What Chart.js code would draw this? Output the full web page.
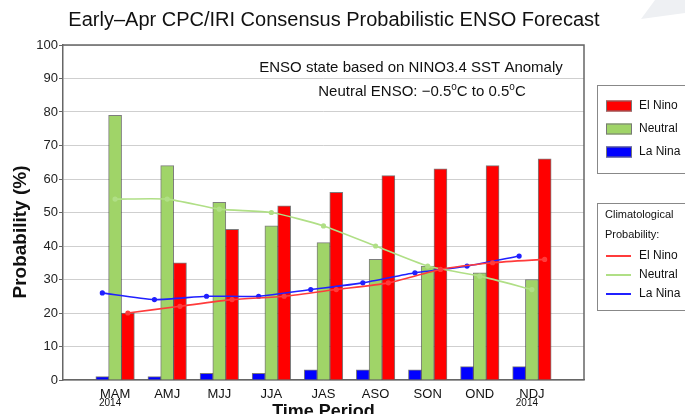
<!DOCTYPE html>
<html>
<head>
<meta charset="utf-8">
<script src="https://cdn.jsdelivr.net/npm/chart.js@4.4.1/dist/chart.umd.min.js"></script>
<style>
    body { margin: 0; background: #fff; }
    #wrap { width: 685px; height: 414px; position: relative; }
</style>
</head>
<body>
<div id="wrap"><canvas id="ensoChart" width="685" height="414"></canvas></div>
<script>
const periods = ['MAM', 'AMJ', 'MJJ', 'JJA', 'JAS', 'ASO', 'SON', 'OND', 'NDJ'];
const yearLabels = ['2014', '', '', '', '', '', '', '', '2014'];
const yTicks = [0, 10, 20, 30, 40, 50, 60, 70, 80, 90, 100];

// forecast probabilities (%)
const laNina = [1, 1, 2, 2, 3, 3, 3, 4, 4];
const neutral = [79, 64, 53, 46, 41, 36, 34, 32, 30];
const elNino = [20, 35, 45, 52, 56, 61, 63, 64, 66];

// climatological probabilities (%)
const climElNino = [20, 22, 24, 25, 27, 29, 33, 35, 36];
const climNeutral = [54, 54, 51, 50, 46, 40, 34, 31, 27];
const climLaNina = [26, 24, 25, 25, 27, 29, 32, 34, 37];

const FONT = '"Liberation Sans", Arial, Helvetica, sans-serif';
const RED = '#ff0000';
const GREEN = '#a0d468';
const BLUE = '#0000ff';
const shift = 0.245;   // side bars sit this far (in slots) from the neutral bar

// each period sits on slot i+1 of a 0..10 linear axis
const atSlot = (arr, off) => arr.map((v, i) => ({ x: i + 1 + off, y: v }));

const barStyle = {
    borderColor: 'rgba(70,70,70,0.7)',
    borderWidth: 1,
    barThickness: 13,
    grouped: false
};
const lineStyle = {
    type: 'line',
    borderWidth: 1.6,
    pointRadius: 1.8,
    tension: 0.2,
    order: -1
};

function supText(ctx, parts, x, y, size) {
    // parts: [text, isSup]
    const fontFor = sup => (sup ? Math.round(size * 0.65) : size) + 'px ' + FONT;
    let total = 0;
    parts.forEach(p => {
        ctx.font = fontFor(p[1]);
        total += ctx.measureText(p[0]).width;
    });
    let cx = x - total / 2;
    ctx.textAlign = 'left';
    parts.forEach(p => {
        ctx.font = fontFor(p[1]);
        ctx.fillText(p[0], cx, p[1] ? y - 5 : y);
        cx += ctx.measureText(p[0]).width;
    });
}

const extras = {
    id: 'extras',
    beforeDraw(chart) {
        const ctx = chart.ctx;
        ctx.save();
        ctx.fillStyle = '#eef0f3';
        ctx.beginPath();
        ctx.moveTo(655, 0);
        ctx.lineTo(685, 0);
        ctx.lineTo(685, 13);
        ctx.lineTo(641, 19);
        ctx.closePath();
        ctx.fill();
        ctx.restore();
    },
    afterDraw(chart) {
        const ctx = chart.ctx;
        const a = chart.chartArea;
        const xs = chart.scales.x;
        ctx.save();

        // frame top + right
        ctx.strokeStyle = '#666';
        ctx.lineWidth = 1.5;
        ctx.beginPath();
        ctx.moveTo(a.left, a.top);
        ctx.lineTo(a.right, a.top);
        ctx.lineTo(a.right, a.bottom);
        ctx.stroke();

        ctx.fillStyle = '#111';
        ctx.textBaseline = 'middle';

        // title
        ctx.textAlign = 'center';
        ctx.font = '20px ' + FONT;
        ctx.fillText('Early\u2013Apr CPC/IRI Consensus Probabilistic ENSO Forecast', 334, 20);

        // note in plot
        ctx.font = '15px ' + FONT;
        ctx.fillText('ENSO state based on NINO3.4 SST Anomaly', 411, 68);
        supText(ctx, [['Neutral ENSO: \u22120.5', false], ['o', true], ['C to 0.5', false], ['o', true], ['C', false]], 422, 92, 15);

        // year labels
        ctx.textAlign = 'center';
        ctx.font = '10px ' + FONT;
        yearLabels.forEach((t, i) => {
            if (t) ctx.fillText(t, xs.getPixelForValue(i + 1) - 5, 403);
        });

        // axis titles
        ctx.font = 'bold 18px ' + FONT;
        ctx.fillText('Time Period', (a.left + a.right) / 2, 412);
        ctx.save();
        ctx.font = 'bold 19px ' + FONT;
        ctx.translate(21, 232);
        ctx.rotate(-Math.PI / 2);
        ctx.fillText('Probability (%)', 0, 0);
        ctx.restore();

        // legend boxes
        ctx.strokeStyle = '#888';
        ctx.lineWidth = 1;
        ctx.strokeRect(597.5, 85.5, 100, 88);
        ctx.strokeRect(597.5, 203.5, 100, 107);

        ctx.textAlign = 'left';
        ctx.font = '12px ' + FONT;
        const boxItems = [['El Nino', RED, 106], ['Neutral', GREEN, 129], ['La Nina', BLUE, 152]];
        boxItems.forEach(it => {
            ctx.fillStyle = it[1];
            ctx.fillRect(606, it[2] - 5.5, 26, 11);
            ctx.strokeStyle = '#777';
            ctx.strokeRect(606.5, it[2] - 5, 25, 10);
            ctx.fillStyle = '#111';
            ctx.fillText(it[0], 639, it[2]);
        });

        ctx.font = '11px ' + FONT;
        ctx.fillText('Climatological', 605, 215);
        ctx.fillText('Probability:', 605, 235);
        ctx.font = '12px ' + FONT;
        const lineItems = [['El Nino', '#ff3b3b', 256], ['Neutral', '#b0df86', 275], ['La Nina', '#2020ff', 294]];
        lineItems.forEach(it => {
            ctx.strokeStyle = it[1];
            ctx.lineWidth = 2;
            ctx.beginPath();
            ctx.moveTo(606, it[2]);
            ctx.lineTo(631, it[2]);
            ctx.stroke();
            ctx.fillStyle = '#111';
            ctx.fillText(it[0], 639, it[2]);
        });
        ctx.restore();
    }
};

const ctx = document.getElementById('ensoChart').getContext('2d');
// eslint-disable-next-line no-undef
new Chart(ctx, {
    type: 'bar',
    data: {
        datasets: [
            { label: 'La Nina', data: atSlot(laNina, -shift), backgroundColor: BLUE, ...barStyle },
            { label: 'Neutral', data: atSlot(neutral, 0), backgroundColor: GREEN, ...barStyle },
            { label: 'El Nino', data: atSlot(elNino, shift), backgroundColor: RED, ...barStyle },
            { label: 'Clim El Nino', data: atSlot(climElNino, shift), borderColor: '#ff3b3b', backgroundColor: '#ff3b3b', ...lineStyle },
            { label: 'Clim Neutral', data: atSlot(climNeutral, 0), borderColor: '#b0df86', backgroundColor: '#b0df86', ...lineStyle },
            { label: 'Clim La Nina', data: atSlot(climLaNina, -shift), borderColor: '#2020ff', backgroundColor: '#2020ff', ...lineStyle }
        ]
    },
    options: {
        responsive: false,
        animation: false,
        layout: { padding: { top: 45, right: 101, left: 0, bottom: 0 } },
        plugins: {
            legend: { display: false },
            tooltip: { enabled: false },
            title: { display: false }
        },
        scales: {
            x: {
                type: 'linear',
                min: 0,
                max: 10,
                offset: false,
                grid: { display: false, drawTicks: false, offset: false },
                border: { color: '#666', width: 1.5 },
                afterBuildTicks: s => { s.ticks = periods.map((p, i) => ({ value: i + 1 })); },
                ticks: {
                    autoSkip: false,
                    maxRotation: 0,
                    color: '#111',
                    font: { size: 13, family: FONT },
                    padding: 7,
                    callback: v => periods[v - 1]
                },
                afterFit: s => { s.height = 34; }
            },
            y: {
                min: 0,
                max: 100,
                afterBuildTicks: s => { s.ticks = yTicks.map(v => ({ value: v })); },
                ticks: { color: '#222', font: { size: 13, family: FONT }, padding: 1 },
                grid: { color: '#cfcfcf', tickColor: '#666', tickLength: 4 },
                border: { color: '#666', width: 1.5 },
                afterFit: s => { s.width = 63; }
            }
        }
    },
    plugins: [extras]
});
</script>
</body>
</html>
